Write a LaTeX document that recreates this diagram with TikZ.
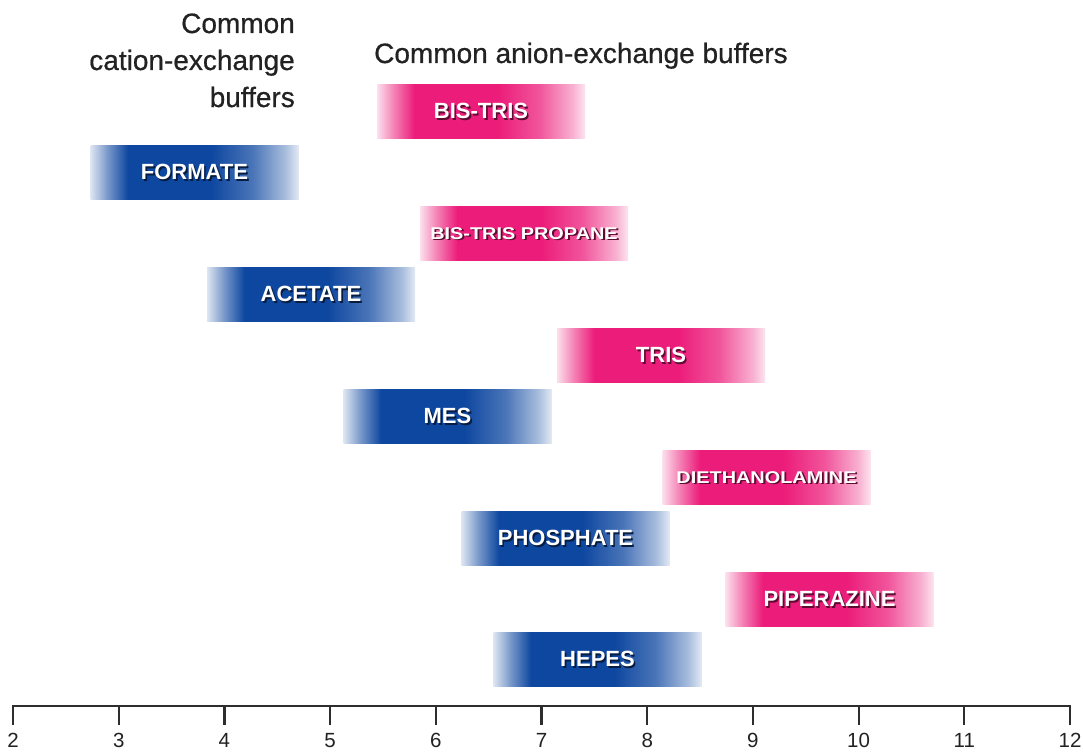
\documentclass[tikz,border=0pt]{standalone}
\usepackage{fontspec}
\setmainfont{Liberation Sans}
\newfontfamily\medfont[FakeBold=0.6]{Liberation Sans}
\definecolor{bb}{RGB}{14,71,160}
\definecolor{pk}{RGB}{236,28,122}
\definecolor{ink}{RGB}{34,34,34}
\pgfdeclarehorizontalshading{bluefade}{100bp}{color(0bp)=(bb!14); color(25bp)=(bb!14); color(29bp)=(bb!55); color(34bp)=(bb); color(54bp)=(bb); color(64bp)=(bb!75); color(72bp)=(bb!35); color(75bp)=(bb!12); color(100bp)=(bb!12)}
\pgfdeclarehorizontalshading{pinkfade}{100bp}{color(0bp)=(pk!14); color(25bp)=(pk!14); color(29bp)=(pk!55); color(34bp)=(pk); color(54bp)=(pk); color(64bp)=(pk!75); color(72bp)=(pk!35); color(75bp)=(pk!12); color(100bp)=(pk!12)}
\newcommand{\shtext}[2]{\rlap{\hspace{1.6pt}\raisebox{-1.6pt}{\color{#1}#2}}#2}
\begin{document}
\begin{tikzpicture}[x=1pt,y=-1pt,
  bar/.style={rectangle, minimum width=208pt, minimum height=54pt, inner sep=0pt, shade, shading=#1},
  lbl/.style={text=white, font=\fontsize{22}{24}\selectfont\bfseries, inner sep=0pt, text height=15.8pt, text depth=0pt},
  small/.style={font=\fontsize{17}{19}\selectfont\bfseries, text height=12.2pt, xscale=1.17},
  title/.style={text=ink, font=\fontsize{28}{30}\selectfont\medfont, inner sep=0pt},
  ticklbl/.style={text=ink, font=\fontsize{20.5}{22}\selectfont, inner sep=0pt, anchor=base},
  axis/.style={draw=ink!95, line width=2.2pt}
]
\useasboundingbox (0,0) rectangle (1083,752);
\fill[white] (0,0) rectangle (1083,752);

% titles
\node[title, anchor=base east] (t1) at (295,33) {Common};
\node[title, anchor=base east] (t2) at (295,70) {cation-exchange};
\node[title, anchor=base east] (t3) at (295,107) {buffers};
\node[title, anchor=base west] (t4) at (374,63) {Common anion-exchange buffers};

% bars
\node[bar=pinkfade] (b1) at (481,111) {};
\node[bar=bluefade] (b2) at (194.5,172) {};
\node[bar=pinkfade] (b3) at (524,233) {};
\node[bar=bluefade] (b4) at (311,294) {};
\node[bar=pinkfade] (b5) at (661,355) {};
\node[bar=bluefade] (b6) at (447.5,416) {};
\node[bar=pinkfade] (b7) at (766.5,477) {};
\node[bar=bluefade] (b8) at (565.5,538) {};
\node[bar=pinkfade] (b9) at (829.5,599) {};
\node[bar=bluefade] (b10) at (597.5,659) {};

% labels
\node[lbl] (l1) at (b1.center) {\shtext{pk!40!black}{BIS-TRIS}};
\node[lbl] (l2) at (b2.center) {\shtext{bb!40!black}{FORMATE}};
\node[lbl,small] (l3) at (b3.center) {\shtext{pk!40!black}{BIS-TRIS PROPANE}};
\node[lbl] (l4) at (b4.center) {\shtext{bb!40!black}{ACETATE}};
\node[lbl] (l5) at (b5.center) {\shtext{pk!40!black}{TRIS}};
\node[lbl] (l6) at (b6.center) {\shtext{bb!40!black}{MES}};
\node[lbl,small] (l7) at (b7.center) {\shtext{pk!40!black}{DIETHANOLAMINE}};
\node[lbl] (l8) at (b8.center) {\shtext{bb!40!black}{PHOSPHATE}};
\node[lbl] (l9) at (b9.center) {\shtext{pk!40!black}{PIPERAZINE}};
\node[lbl] (l10) at (b10.center) {\shtext{bb!40!black}{HEPES}};

% axis
\draw[axis] (13,725) -- (13,706) -- (1070,706) -- (1070,725);
\foreach \i in {3,...,11} {
  \draw[axis] ({13+105.7*(\i-2)},706) -- ({13+105.7*(\i-2)},725);
}
\foreach \i in {2,...,12} {
  \node[ticklbl] (tk\i) at ({13+105.7*(\i-2)},747) {\i};
}
\end{tikzpicture}
\end{document}
